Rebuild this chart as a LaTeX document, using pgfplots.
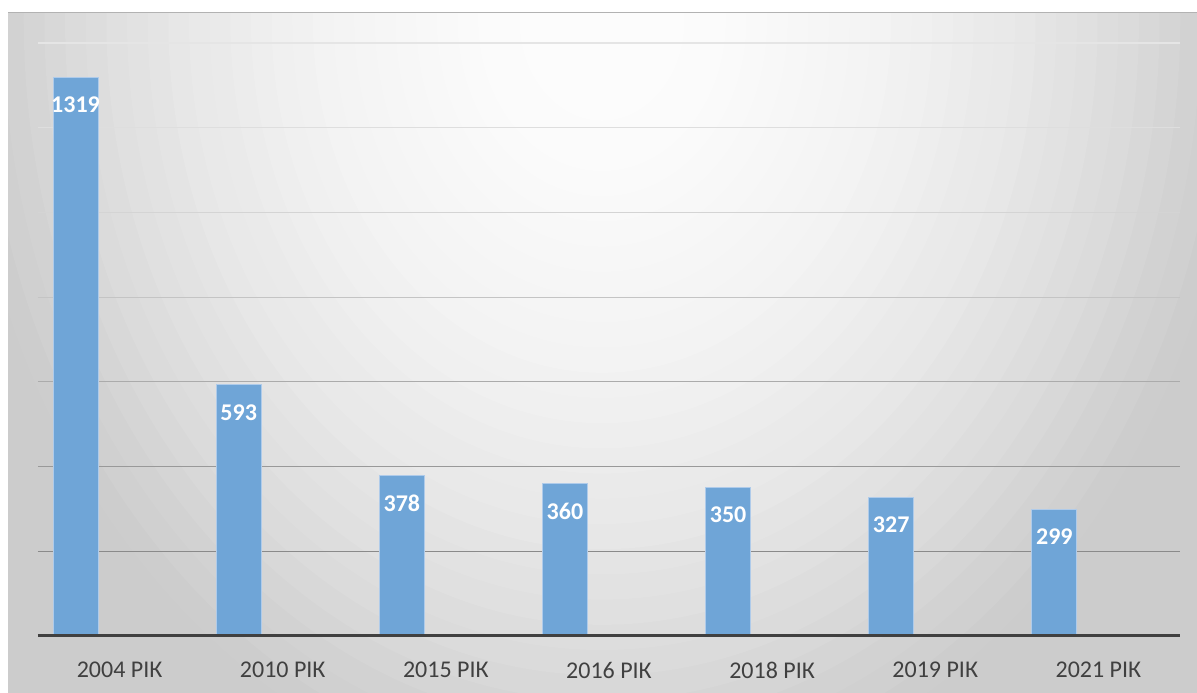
\documentclass[border=0pt]{standalone}
\usepackage{fontspec}
\setmainfont{Carlito}
\usepackage{pgfplots}
\pgfplotsset{compat=1.18}

\definecolor{barblue}{RGB}{111,165,215}
\definecolor{baredge}{RGB}{175,203,234}
\definecolor{labelgray}{RGB}{64,64,64}

\begin{document}
\begin{tikzpicture}
\useasboundingbox (0pt,0pt) rectangle (1197pt,693pt);
\fill[white] (0pt,0pt) rectangle (1197pt,693pt);
% background panel: light spot at the top centre, grey towards the sides
\begin{scope}
  \clip (8pt,0pt) rectangle (1197pt,680pt);
  \foreach \i in {1,...,40} {
    \pgfmathsetmacro\d{(41-\i)*0.035}
    \pgfmathsetmacro\c{min(20,1+16*\d*\d)}
    \fill[black!\c] (602pt,673pt) ellipse [x radius=\d*590pt, y radius=\d*720pt];
  }
\end{scope}
\draw[black!30, line width=1pt] (8pt,680pt) -- (1197pt,680pt);

\begin{axis}[
  at={(38pt,57pt)}, anchor=south west,
  scale only axis, width=1142pt, height=593pt,
  xmin=-0.5, xmax=6.5, ymin=0, ymax=1400,
  axis x line*=bottom, axis y line*=left,
  axis line style={draw=none},
  ytick=\empty,
  xtick={0,...,6},
  xticklabels={2004 РІК, 2010 РІК, 2015 РІК, 2016 РІК, 2018 РІК, 2019 РІК, 2021 РІК},
  major tick length=0pt,
  xticklabel style={font=\fontsize{24}{28}\selectfont, text=labelgray,
    anchor=north, inner sep=0pt, yshift=-26pt},
  ybar, bar width=45pt, bar shift=-44pt,
  /pgf/number format/1000 sep={},
  /pgf/number format/assume math mode=true,
  nodes near coords,
  nodes near coords style={font=\bfseries\fontsize{24}{28}\selectfont, text=white,
    anchor=north, inner sep=0pt, yshift=-19pt},
  clip=false,
]
\draw[black!46, line width=1.2pt] (axis cs:-0.5,200) -- (axis cs:6.5,200);
\draw[black!40, line width=1.2pt] (axis cs:-0.5,400) -- (axis cs:6.5,400);
\draw[black!33, line width=1.2pt] (axis cs:-0.5,600) -- (axis cs:6.5,600);
\draw[black!23, line width=1.2pt] (axis cs:-0.5,800) -- (axis cs:6.5,800);
\draw[black!17, line width=1.2pt] (axis cs:-0.5,1000) -- (axis cs:6.5,1000);
\draw[black!13, line width=1.2pt] (axis cs:-0.5,1200) -- (axis cs:6.5,1200);
\draw[black!10, line width=1.2pt] (axis cs:-0.5,1400) -- (axis cs:6.5,1400);

\addplot[fill=barblue, draw=baredge, line width=1pt]
  coordinates {(0,1319) (1,593) (2,378) (3,360) (4,350) (5,327) (6,299)};

\draw[labelgray, line width=3pt] (axis cs:-0.5,0) -- (axis cs:6.5,0);
\end{axis}
\end{tikzpicture}
\end{document}
